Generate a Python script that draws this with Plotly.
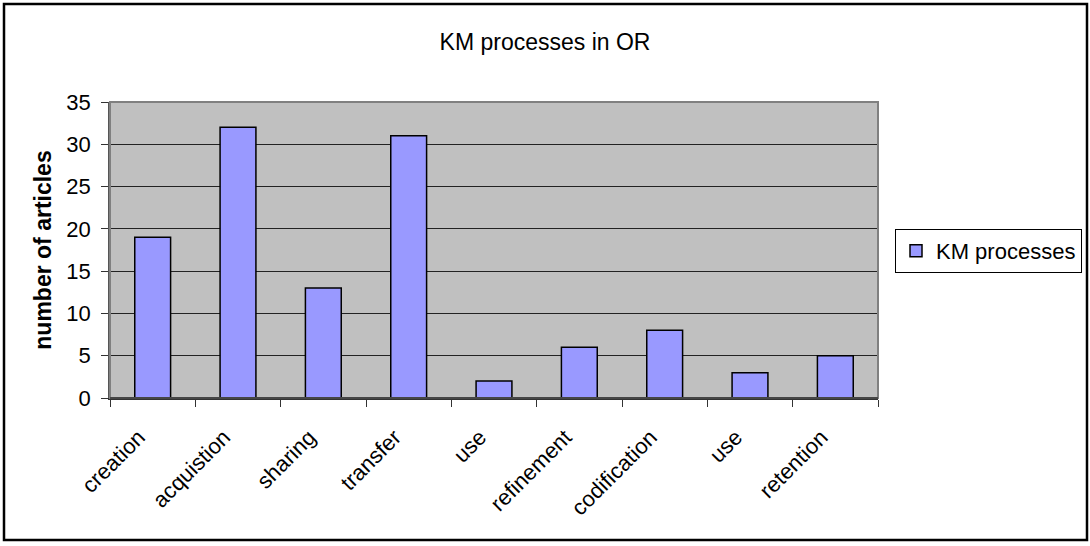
import plotly.graph_objects as go

categories = ["creation", "acquistion", "sharing", "transfer", "use",
              "refinement", "codification", "use", "retention"]
values = [19, 32, 13, 31, 2, 6, 8, 3, 5]
series_name = "KM processes"
title_text = "KM processes in OR"
y_title = "number of articles"

positions = list(range(len(categories)))

fig = go.Figure()
fig.add_trace(go.Bar(
    x=positions, y=values, name=series_name, width=0.42,
    marker=dict(color="#9999FF", line=dict(color="#000000", width=1.5)),
    showlegend=True,
))

font = "Liberation Sans, Arial, sans-serif"
L, R, T, B = 110, 212, 102, 148
W, H = 1090, 546
pw, ph = W - L - R, H - T - B

def px(x):
    return (x - L) / pw

def py(y):
    return (H - B - y) / ph

fig.update_layout(
    width=W, height=H,
    margin=dict(l=L, r=R, t=T, b=B, autoexpand=False),
    paper_bgcolor="white", plot_bgcolor="#C0C0C0",
    font=dict(family=font, color="black", size=22),
    title=dict(text=title_text, x=0.5, xanchor="center", y=1 - 42 / H, yanchor="middle",
               font=dict(size=23, family=font)),
    showlegend=True,
    legend=dict(x=px(895), y=py(229), xanchor="left", yanchor="top",
                bordercolor="black", borderwidth=1, bgcolor="white",
                font=dict(size=22, family=font), itemwidth=30,
                tracegroupgap=0),
    xaxis=dict(
        range=[-0.5, len(categories) - 0.5],
        tickmode="array", tickvals=positions, ticktext=categories,
        tickangle=-45, ticks="", showgrid=False, zeroline=False,
        showline=True, linecolor="#333333", linewidth=1.5,
        tickfont=dict(size=22, family=font),
        ticklabelstandoff=16, ticklabelshift=-14,
        minor=dict(tickmode="array",
                   tickvals=[p - 0.5 for p in positions] + [positions[-1] + 0.5],
                   ticks="outside", ticklen=7, tickcolor="#333333", tickwidth=1,
                   showgrid=False),
        fixedrange=True,
    ),
    yaxis=dict(
        range=[0, 35], tickmode="linear", tick0=0, dtick=5,
        ticks="outside", ticklen=7, tickcolor="#333333",
        ticklabelstandoff=6,
        showgrid=True, gridcolor="#222222", gridwidth=1, zeroline=False,
        showline=True, linecolor="#555555", linewidth=1.5,
        tickfont=dict(size=22, family=font),
        title=dict(text="<b>" + y_title + "</b>", font=dict(size=23, family=font), standoff=8),
        fixedrange=True,
    ),
    shapes=[
        dict(type="rect", xref="paper", yref="paper", x0=0, x1=1, y0=0, y1=1,
             line=dict(color="#808080", width=2), layer="above"),
        dict(type="line", xref="paper", yref="paper", x0=0, x1=1, y0=0, y1=0,
             line=dict(color="#333333", width=1.5), layer="above"),
        dict(type="rect", xref="paper", yref="paper",
             x0=px(4), x1=px(1087), y0=py(540), y1=py(4),
             line=dict(color="black", width=2.5), layer="above"),
    ],
)

fig.write_html("out.html", config={"displayModeBar": False},
               post_script="document.body.style.margin='0';")
